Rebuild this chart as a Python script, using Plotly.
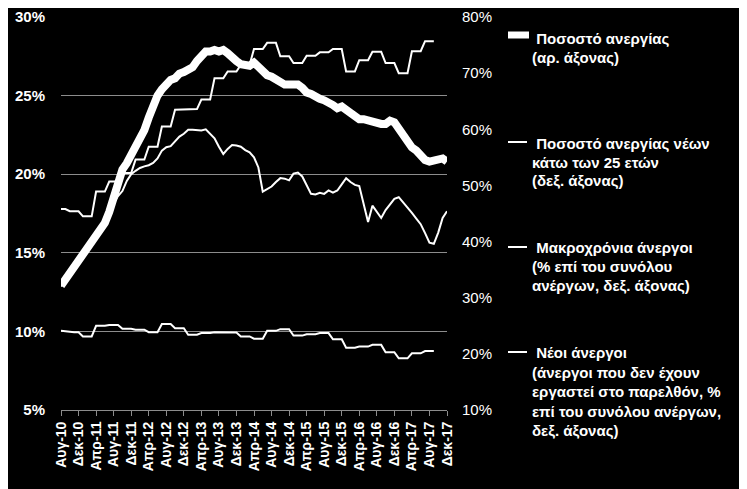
import plotly.graph_objects as go

# month labels, Aug-10 .. Dec-17
MONTHS = ["Ιαν", "Φεβ", "Μαρ", "Απρ", "Μαϊ", "Ιουν", "Ιουλ", "Αυγ", "Σεπ", "Οκτ", "Νοε", "Δεκ"]
dates = [f"{MONTHS[(7 + i) % 12]}-{10 + (7 + i) // 12}" for i in range(89)]
tick_labels = dates[::4]

# unemployment rate (left axis, %)
unemp = [12.9, 13.3, 13.8, 14.2, 14.6, 14.9, 15.5, 15.9, 16.3, 16.7, 16.9, 17.6,
         18.4, 19.3, 20.3, 20.7, 21.2, 21.7, 22.3, 22.8, 23.6, 24.5, 25.0, 25.4,
         25.7, 26.0, 26.1, 26.4, 26.5, 26.6, 26.8, 27.2, 27.6, 27.8, 27.8, 27.9,
         27.8, 27.9, 27.7, 27.4, 27.2, 27.0, 26.9, 26.9, 27.1, 26.8, 26.5, 26.3,
         26.2, 26.0, 25.8, 25.7, 25.7, 25.7, 25.7, 25.5, 25.2, 25.1, 24.9, 24.8,
         24.7, 24.6, 24.4, 24.2, 24.3, 24.1, 23.9, 23.7, 23.5, 23.5, 23.4, 23.3,
         23.3, 23.2, 23.2, 23.4, 23.3, 22.9, 22.5, 22.0, 21.7, 21.5, 21.2, 20.9,
         20.8, 20.9, 20.9, 21.0, 20.8]

# youth (<25) unemployment rate (right axis, %), quarterly values per month
youth = [45.8, 45.8,
         45.4, 45.4, 45.4, 44.5, 44.5, 44.5, 48.9, 48.9, 48.9, 50.7, 50.7, 50.7,
         52.2, 52.2, 52.2, 54.6, 54.6, 54.6, 56.9, 56.9, 56.9, 60.5, 60.5, 60.5,
         63.5, 63.5, 63.5, 63.6, 63.6, 63.6, 65.3, 65.3, 65.3, 69.1, 69.1, 69.1,
         70.3, 70.3, 70.3, 71.5, 71.5, 71.5, 74.3, 74.3, 74.3, 75.4, 75.4, 75.4,
         73.0, 73.0, 73.0, 71.8, 71.8, 71.8, 73.1, 73.1, 73.1, 73.7, 73.7, 73.7,
         74.3, 74.3, 74.3, 70.3, 70.3, 70.3, 72.3, 72.3, 72.3, 73.8, 73.8, 73.8,
         71.8, 71.8, 71.8, 70.0, 70.0, 70.0, 73.9, 73.9, 73.9, 75.7, 75.7, 75.7]

# long-term unemployed (% of unemployed, right axis)
longterm = [32.0, 33.2, 34.5, 35.8, 37.0, 38.2, 39.5, 40.3, 41.0, 41.8, 42.7, 44.2,
            46.8, 48.1, 49.0, 50.8, 52.0, 52.6, 53.1, 53.4, 53.6, 54.0, 54.8, 56.2,
            56.8, 57.0, 57.8, 58.7, 59.2, 59.9, 59.9, 59.8, 59.8, 60.0, 59.2, 58.4,
            56.9, 55.6, 56.5, 57.2, 57.1, 56.9, 56.3, 55.9, 55.0, 53.2, 48.9, 49.4,
            49.8, 50.6, 51.3, 51.2, 50.9, 52.1, 52.3, 51.6, 50.1, 48.5, 48.4, 48.7,
            48.5, 49.1, 48.7, 49.1, 50.2, 51.3, 50.6, 50.1, 49.9, 46.8, 43.5, 46.4,
            45.3, 44.2, 45.6, 46.6, 47.6, 47.9, 47.0, 46.2, 45.1, 44.1, 43.1, 41.5,
            39.8, 39.6, 41.6, 44.2, 45.4]

# new unemployed (% of unemployed, right axis)
newunemp = [24.1, 24.0,
            23.85, 23.85, 23.85, 23.1, 23.1, 23.1, 25.0, 25.0, 25.0, 25.15, 25.15, 25.15,
            24.45, 24.45, 24.45, 24.3, 24.3, 24.3, 23.85, 23.85, 23.85, 25.3, 25.3, 25.3,
            24.55, 24.55, 24.55, 23.4, 23.4, 23.4, 23.7, 23.7, 23.7, 23.85, 23.85, 23.85,
            23.8, 23.8, 23.8, 23.1, 23.1, 23.1, 22.7, 22.7, 22.7, 24.1, 24.1, 24.1,
            24.4, 24.4, 24.4, 23.25, 23.25, 23.25, 23.5, 23.5, 23.5, 23.7, 23.7, 23.7,
            22.6, 22.6, 22.6, 21.1, 21.1, 21.1, 21.3, 21.3, 21.3, 21.6, 21.6, 21.6,
            20.3, 20.3, 20.3, 19.2, 19.2, 19.2, 20.1, 20.1, 20.1, 20.5, 20.5, 20.5]

legend_lines = [
    ["\u00a0Ποσοστό ανεργίας", "(αρ. άξονας)"],
    ["\u00a0Ποσοστό ανεργίας νέων", "κάτω των 25 ετών", "(δεξ. άξονας)"],
    ["\u00a0Μακροχρόνια άνεργοι", "(% επί του συνόλου", "ανέργων, δεξ. άξονας)"],
    ["\u00a0Νέοι άνεργοι", "(άνεργοι που δεν έχουν", "εργαστεί στο παρελθόν, %",
     "επί του συνόλου ανέργων,", "δεξ. άξονας)"],
]

FONT = "Liberation Sans, Arial, sans-serif"
GRID = "#8c8c8c"

# plot area in page pixels: x 61..447, y 17..410 (page body has an 8px margin)
def px_x(px):
    return (px - 61) / 386.0

def px_y(py):
    return (410 - py) / 393.0

fig = go.Figure()
fig.add_trace(go.Scatter(x=dates, y=unemp, mode="lines",
                         line=dict(color="white", width=8)))
fig.add_trace(go.Scatter(x=dates[:len(youth)], y=youth, mode="lines", yaxis="y2",
                         line=dict(color="white", width=2)))
fig.add_trace(go.Scatter(x=dates, y=longterm, mode="lines", yaxis="y2",
                         line=dict(color="white", width=2)))
fig.add_trace(go.Scatter(x=dates[:len(newunemp)], y=newunemp, mode="lines", yaxis="y2",
                         line=dict(color="white", width=2)))

# legend drawn by hand
line_centres = [[38.5, 57], [143, 162, 181], [247, 266, 285], [352, 372, 391, 411, 430]]
symbol_y = [35, 142, 247, 352]
annotations = []
shapes = []
for i, lines in enumerate(legend_lines):
    for txt, yc in zip(lines, line_centres[i]):
        annotations.append(dict(
            x=px_x(530), y=px_y(yc), xref="paper", yref="paper",
            xanchor="left", yanchor="middle", showarrow=False, text=txt,
            font=dict(family=FONT, size=15, color="white", weight="bold")))
    if i == 0:
        shapes.append(dict(type="line", xref="paper", yref="paper",
                           x0=px_x(508), x1=px_x(529), y0=px_y(symbol_y[i]), y1=px_y(symbol_y[i]),
                           line=dict(color="white", width=7)))
    else:
        shapes.append(dict(type="line", xref="paper", yref="paper",
                           x0=px_x(508), x1=px_x(527), y0=px_y(symbol_y[i]), y1=px_y(symbol_y[i]),
                           line=dict(color="white", width=2)))

fig.update_layout(
    width=747, height=489,
    margin=dict(l=53, r=308, t=9, b=87),
    paper_bgcolor="black", plot_bgcolor="black",
    showlegend=False,
    xaxis=dict(type="category", range=[0, 88], tickvals=tick_labels, ticktext=tick_labels,
               tickangle=-90, ticks="outside", ticklen=5, tickcolor=GRID,
               showline=True, linecolor=GRID, linewidth=1, showgrid=False,
               automargin=False,
               tickfont=dict(family=FONT, size=14, color="white", weight="bold")),
    yaxis=dict(range=[5, 30], dtick=5, ticksuffix="%", showgrid=True,
               gridcolor=GRID, gridwidth=1, zeroline=False, showline=False,
               ticklabelstandoff=15, automargin=False,
               tickfont=dict(family=FONT, size=15, color="white", weight="bold")),
    yaxis2=dict(range=[10, 80], dtick=10, ticksuffix="%", overlaying="y", side="right",
                showgrid=False, zeroline=False, showline=False, ticklabelstandoff=14,
                automargin=False,
                tickfont=dict(family=FONT, size=15, color="white")),
    annotations=annotations,
    shapes=shapes,
)

fig.write_html("out.html")
